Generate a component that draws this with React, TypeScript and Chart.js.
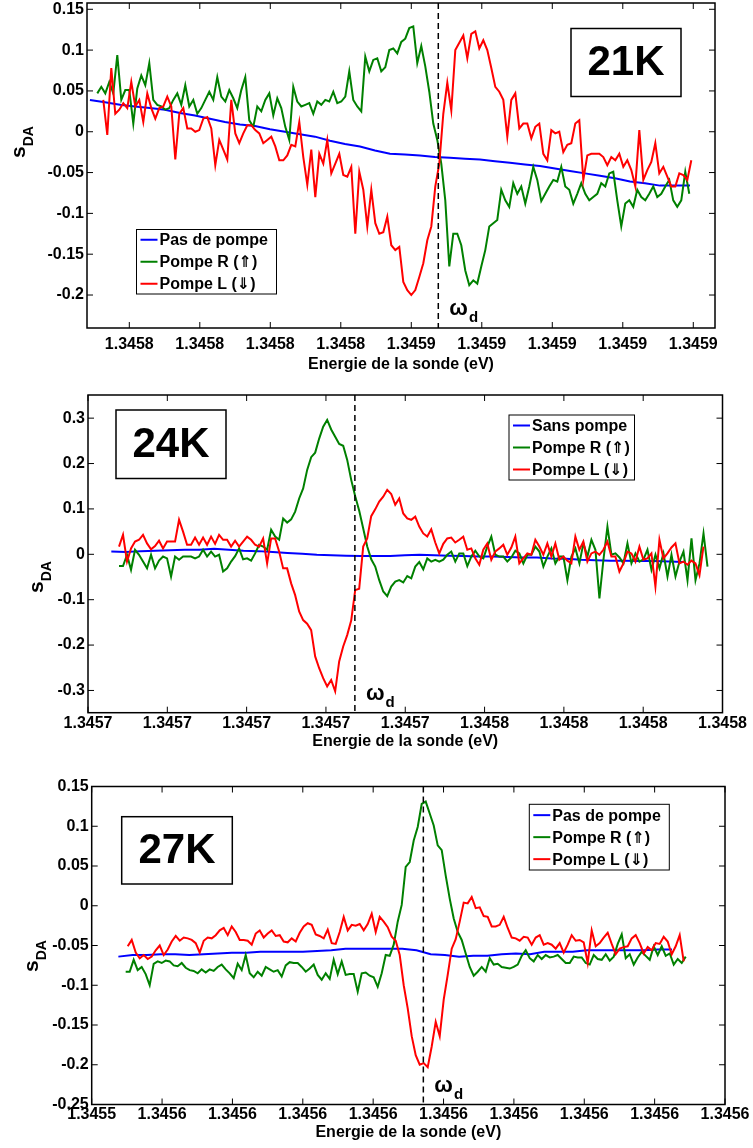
import React, { useEffect, useRef } from "react";
import { Chart, registerables } from "chart.js";

Chart.register(...registerables);

const FONT = "'Liberation Sans', Arial, Helvetica, 'DejaVu Sans', sans-serif";
const BLUE = "#0000ff";
const GREEN = "#008000";
const RED = "#ff0000";
const X_TITLE = "Energie de la sonde (eV)";

// ---------------- Panel 1 : 21K ----------------
const p1XLabels = ["1.3458", "1.3458", "1.3458", "1.3458", "1.3459", "1.3459", "1.3459", "1.3459", "1.3459"];
const p1XTicks = [0, 1, 2, 3, 4, 5, 6, 7, 8];
const p1YTicks = [-0.2, -0.15, -0.1, -0.05, 0, 0.05, 0.1, 0.15];
const p1Legend = ["Pas de pompe", "Pompe R (\u21D1)", "Pompe L (\u21D3)"];
const p1Marker = 4.383;
const p1BlueRange = [-0.558, 7.953];
const p1Blue = [0.039, 0.036, 0.033, 0.031, 0.029, 0.027, 0.023, 0.02, 0.016, 0.012, 0.009, 0.007, 0.003, 0.0, -0.003, -0.006, -0.011, -0.015, -0.018, -0.023, -0.027, -0.028, -0.029, -0.031, -0.032, -0.033, -0.034, -0.036, -0.038, -0.04, -0.042, -0.045, -0.048, -0.051, -0.054, -0.057, -0.061, -0.063, -0.066, -0.066, -0.066];
const p1GreenRange = [-0.454, 7.943];
const p1Green = [
  0.047, 0.055, 0.047, 0.061, 0.047, 0.094, 0.039, 0.051, 0.051, 0.01,
  0.053, 0.069, 0.057, 0.084, 0.039, 0.033, 0.031, 0.027, 0.029, 0.039,
  0.047, 0.033, 0.057, 0.031, 0.039, 0.022, 0.029, 0.039, 0.049, 0.039,
  0.067, 0.043, 0.037, 0.051, 0.041, 0.029, 0.051, 0.067, 0.014, 0.006,
  0.031, 0.025, 0.039, 0.047, 0.02, 0.041, 0.029, 0.006, -0.01, 0.055,
  0.037, 0.031, 0.033, 0.035, 0.022, 0.037, 0.033, 0.039, 0.037, 0.049,
  0.035, 0.037, 0.043, 0.074, 0.039, 0.031, 0.025, 0.092, 0.074, 0.088,
  0.09, 0.074, 0.079, 0.1, 0.102, 0.096, 0.11, 0.114, 0.127,
  0.129, 0.084, 0.105, 0.08, 0.049, 0.01, -0.01, -0.039, -0.084, -0.165,
  -0.125, -0.125, -0.139, -0.17, -0.188, -0.182, -0.186, -0.165, -0.145, -0.116,
  -0.112, -0.108, -0.071, -0.084, -0.092, -0.063, -0.076, -0.067, -0.088, -0.067,
  -0.043, -0.059, -0.085, -0.076, -0.067, -0.059, -0.061, -0.043, -0.067, -0.071,
  -0.088, -0.076, -0.063, -0.076, -0.084, -0.08, -0.076, -0.063, -0.067, -0.051,
  -0.049, -0.084, -0.116, -0.088, -0.084, -0.092, -0.071, -0.08, -0.084, -0.076,
  -0.067, -0.08, -0.076, -0.067, -0.059, -0.084, -0.092, -0.084, -0.049, -0.076,
];
const p1RedRange = [-0.369, 7.972];
const p1Red = [
  0.039, -0.004, 0.078, 0.022, 0.027, 0.035, 0.029, 0.061, 0.031, 0.039,
  0.012, 0.047, 0.029, 0.016, 0.029, 0.031, 0.043, 0.031, -0.034, 0.022,
  0.029, 0.004, 0.004, 0.0, 0.002, 0.016, 0.018, 0.004, -0.041, -0.01,
  -0.022, -0.034, 0.039, -0.002, -0.014, -0.002, 0.008, 0.008, 0.002, -0.002,
  -0.014, -0.01, -0.006, -0.018, -0.035, -0.035, -0.029, -0.016, -0.018, 0.012,
  -0.031, -0.065, -0.022, -0.08, -0.027, -0.039, -0.01, -0.051, -0.039, -0.027,
  -0.053, -0.055, -0.043, -0.125, -0.049, -0.071, -0.116, -0.071, -0.112, -0.125,
  -0.123, -0.104, -0.139, -0.145, -0.141, -0.184, -0.194,
  -0.2, -0.194, -0.178, -0.161, -0.133, -0.116, -0.067, -0.039, 0.022, 0.06,
  0.026, 0.1, 0.109, 0.118, 0.09, 0.12, 0.123, 0.102, 0.112, 0.1,
  0.078, 0.055, 0.049, 0.039, -0.006, 0.039, 0.047, 0.004, 0.01, 0.01,
  -0.008, 0.006, 0.01, -0.027, -0.035, 0.002, -0.002, 0.0, -0.025, -0.016,
  -0.014, 0.01, 0.014, -0.059, -0.029, -0.027, -0.027, -0.027, -0.031, -0.041,
  -0.031, -0.035, -0.027, -0.043, -0.035, -0.047, -0.067, 0.002, -0.059, -0.047,
  -0.037, -0.014, -0.051, -0.043, -0.055, -0.067, -0.067, -0.051, -0.053, -0.059, -0.035,
];

// ---------------- Panel 2 : 24K ----------------
const p2XLabels = ["1.3457", "1.3457", "1.3457", "1.3457", "1.3457", "1.3458", "1.3458", "1.3458", "1.3458"];
const p2XTicks = [0, 1, 2, 3, 4, 5, 6, 7, 8];
const p2YTicks = [-0.3, -0.2, -0.1, 0, 0.1, 0.2, 0.3];
const p2Legend = ["Sans pompe", "Pompe R (\u21D1)", "Pompe L (\u21D3)"];
const p2Marker = 3.365;
const p2BlueRange = [0.294, 7.512];
const p2Blue = [0.006, 0.005, 0.007, 0.008, 0.009, 0.01, 0.01, 0.012, 0.01, 0.008, 0.007, 0.005, 0.003, 0.001, -0.001, -0.002, -0.003, -0.004, -0.004, -0.004, -0.002, -0.001, -0.002, -0.003, -0.004, -0.005, -0.005, -0.006, -0.007, -0.007, -0.009, -0.01, -0.012, -0.013, -0.014, -0.014, -0.015, -0.015, -0.016, -0.017];
const p2GreenRange = [0.391, 7.811];
const p2Green = [
  -0.026, -0.026, -0.001, -0.034, 0.01, -0.001, -0.016, -0.031, -0.001, -0.031,
  -0.014, -0.005, -0.009, -0.049, -0.005, -0.012, -0.005, -0.005, -0.005, -0.009,
  -0.005, 0.01, -0.005, 0.006, -0.005, -0.001, -0.038, -0.031, -0.016, -0.004,
  0.013, -0.011, -0.009, -0.014, 0.002, 0.021, 0.017, 0.01, 0.054, 0.039,
  0.032, 0.079, 0.07, 0.077, 0.094, 0.123, 0.145, 0.186, 0.214, 0.224,
  0.255, 0.281, 0.296, 0.275, 0.259, 0.243, 0.239, 0.208, 0.164, 0.128,
  0.096, 0.057, 0.017, -0.011, -0.027, -0.057, -0.082, -0.092, -0.071, -0.06,
  -0.057, -0.062, -0.048, -0.053, -0.027, -0.017, -0.033, -0.009, -0.016, -0.012,
  -0.016, -0.012, -0.001, 0.006, -0.016, 0.002, 0.002, -0.026, -0.005, 0.008,
  -0.005, -0.009, 0.017, 0.039, -0.001, -0.005, -0.005, -0.016, -0.007, 0.008,
  0.002, -0.02, -0.001, -0.001, 0.017, 0.006, -0.027, -0.005, 0.013, -0.02,
  -0.005, -0.005, -0.057, -0.005, 0.013, -0.02, 0.024, -0.005, 0.032, 0.01,
  -0.097, -0.012, 0.061, -0.001, 0.002, -0.007, -0.02, 0.024, -0.02, 0.002,
  -0.016, -0.011, 0.01, -0.034, -0.001, -0.031, 0.002, -0.049, -0.001, -0.049,
  -0.016, 0.006, -0.057, 0.035, -0.057, -0.02, 0.046, -0.027,
];
const p2RedRange = [0.391, 7.76];
const p2Red = [
  0.017, 0.043, -0.016, 0.013, 0.028, 0.032, 0.043, 0.024, 0.011, 0.018,
  0.03, 0.013, 0.028, 0.028, 0.028, 0.076, 0.05, 0.021, 0.021, 0.037,
  0.021, 0.037, 0.021, 0.039, 0.023, 0.043, 0.032, 0.032, 0.017, 0.03,
  0.017, 0.028, 0.039, 0.032, 0.021, 0.017, 0.035, -0.02, 0.035, 0.035,
  0.006, -0.031, -0.031, -0.064, -0.09, -0.126, -0.145, -0.153, -0.167, -0.225,
  -0.251, -0.273, -0.291, -0.277, -0.302, -0.236, -0.203, -0.178, -0.146, -0.079,
  -0.076, 0.017, 0.035, 0.084, 0.099, 0.116, 0.127, 0.142, 0.133, 0.109,
  0.123, 0.09, 0.079, 0.076, 0.083, 0.061, 0.046, 0.039, 0.055, 0.026,
  0.002, 0.023, 0.035, 0.037, 0.026, 0.032, 0.039, 0.01, 0.013, -0.009,
  -0.023, 0.01, 0.024, -0.012, 0.006, 0.013, 0.021, -0.001, 0.015, 0.039,
  -0.02, -0.009, 0.002, -0.001, 0.032, 0.017, -0.001, 0.024, -0.005, 0.024,
  -0.012, -0.005, -0.014, -0.02, 0.039, 0.01, 0.028, -0.016, 0.002, 0.006,
  -0.001, 0.01, 0.028, -0.005, -0.005, -0.038, -0.02, 0.006, 0.002, -0.016,
  0.017, -0.012, -0.009, 0.002, -0.071, 0.032, -0.009, 0.002, 0.015, 0.024,
  -0.02, -0.016, -0.023, -0.014, -0.02, -0.046, 0.017,
];

// ---------------- Panel 3 : 27K ----------------
const p3XLabels = ["1.3455", "1.3456", "1.3456", "1.3456", "1.3456", "1.3456", "1.3456", "1.3456", "1.3456", "1.3456"];
const p3XTicks = [0, 1, 2, 3, 4, 5, 6, 7, 8, 9];
const p3YTicks = [-0.25, -0.2, -0.15, -0.1, -0.05, 0, 0.05, 0.1, 0.15];
const p3Legend = ["Pas de pompe", "Pompe R (\u21D1)", "Pompe L (\u21D3)"];
const p3Marker = 4.713;
const p3BlueRange = [0.379, 8.247];
const p3Blue = [-0.064, -0.062, -0.062, -0.061, -0.061, -0.062, -0.061, -0.06, -0.059, -0.059, -0.058, -0.058, -0.058, -0.058, -0.057, -0.056, -0.054, -0.054, -0.054, -0.054, -0.054, -0.056, -0.061, -0.062, -0.064, -0.063, -0.063, -0.061, -0.06, -0.061, -0.058, -0.058, -0.058, -0.056, -0.056, -0.056, -0.056, -0.056, -0.055, -0.055];
const p3GreenRange = [0.483, 8.442];
const p3Green = [
  -0.083, -0.083, -0.068, -0.081, -0.077, -0.086, -0.1, -0.073, -0.07, -0.072,
  -0.069, -0.07, -0.075, -0.076, -0.072, -0.078, -0.081, -0.082, -0.085, -0.08,
  -0.084, -0.08, -0.082, -0.077, -0.074, -0.08, -0.085, -0.091, -0.073, -0.081,
  -0.062, -0.085, -0.09, -0.083, -0.088, -0.077, -0.08, -0.083, -0.081, -0.089,
  -0.075, -0.071, -0.072, -0.072, -0.077, -0.083, -0.079, -0.074, -0.087, -0.093,
  -0.085, -0.092, -0.068, -0.086, -0.07, -0.087, -0.086, -0.086, -0.108, -0.085,
  -0.084, -0.088, -0.09, -0.102, -0.085, -0.062, -0.063, -0.049, -0.02, 0.001,
  0.049, 0.055, 0.082, 0.099, 0.128, 0.131, 0.116, 0.101, 0.076, 0.07,
  0.038, 0.009, -0.016, -0.033, -0.043, -0.06, -0.077, -0.088, -0.083, -0.077,
  -0.083, -0.066, -0.074, -0.073, -0.077, -0.078, -0.079, -0.077, -0.074, -0.063,
  -0.056, -0.066, -0.07, -0.062, -0.067, -0.062, -0.065, -0.064, -0.062, -0.067,
  -0.072, -0.072, -0.064, -0.065, -0.065, -0.072, -0.074, -0.062, -0.067, -0.068,
  -0.061, -0.069, -0.064, -0.048, -0.036, -0.066, -0.061, -0.074, -0.065, -0.058,
  -0.063, -0.068, -0.051, -0.062, -0.051, -0.063, -0.06, -0.074, -0.067, -0.072, -0.064,
];
const p3RedRange = [0.512, 8.413];
const p3Red = [
  -0.051, -0.043, -0.059, -0.066, -0.062, -0.067, -0.064, -0.056, -0.05, -0.062,
  -0.055, -0.045, -0.038, -0.044, -0.04, -0.041, -0.043, -0.047, -0.059, -0.044,
  -0.04, -0.041, -0.037, -0.031, -0.028, -0.037, -0.026, -0.033, -0.043, -0.043,
  -0.044, -0.049, -0.035, -0.031, -0.04, -0.035, -0.031, -0.038, -0.037, -0.045,
  -0.046, -0.041, -0.045, -0.034, -0.026, -0.022, -0.024, -0.036, -0.038, -0.041,
  -0.03, -0.047, -0.048, -0.033, -0.014, -0.031, -0.024, -0.025, -0.023, -0.031,
  -0.023, -0.01, -0.033, -0.014, -0.02, -0.027, -0.039, -0.044, -0.062, -0.1,
  -0.129, -0.164, -0.188, -0.2, -0.198, -0.203, -0.177, -0.146, -0.164, -0.118,
  -0.087, -0.054, -0.042, -0.02, 0.004, 0.003, 0.011, -0.003, -0.002, -0.013,
  -0.014, -0.026, -0.026, -0.024, -0.014, -0.028, -0.04, -0.041, -0.044, -0.039,
  -0.04, -0.049, -0.04, -0.037, -0.049, -0.047, -0.049, -0.054, -0.047, -0.059,
  -0.049, -0.037, -0.044, -0.043, -0.046, -0.072, -0.031, -0.051, -0.047, -0.04,
  -0.034, -0.048, -0.061, -0.054, -0.052, -0.051, -0.041, -0.037, -0.047, -0.06,
  -0.052, -0.056, -0.047, -0.048, -0.039, -0.045, -0.061, -0.051, -0.037, -0.07,
];

// ---------------- layout / styling ----------------
type Series = { name: string; color: string; range: number[]; values: number[]; order: number };
type PanelSpec = {
  canvasTop: number;
  canvasHeight: number;
  plot: { left: number; right: number; top: number; bottom: number };
  xMin: number; xMax: number; yMin: number; yMax: number;
  xTicks: number[]; xLabels: string[]; yTicks: number[];
  series: Series[];
  marker: number;
  tag: string;
  tagBox: number[];
  legendBox: number[];
  yLabel: number[];
  titleY: number;
  xTickPad: number;
};

const CW = 790;

const panels: PanelSpec[] = [
  {
    canvasTop: -17, canvasHeight: 397,
    plot: { left: 87, right: 715, top: 3, bottom: 328 },
    xMin: -0.6, xMax: 8.308, yMin: -0.2404, yMax: 0.1577,
    xTicks: p1XTicks, xLabels: p1XLabels, yTicks: p1YTicks,
    series: [
      { name: p1Legend[0], color: BLUE, range: p1BlueRange, values: p1Blue, order: 3 },
      { name: p1Legend[1], color: GREEN, range: p1GreenRange, values: p1Green, order: 2 },
      { name: p1Legend[2], color: RED, range: p1RedRange, values: p1Red, order: 1 },
    ],
    marker: p1Marker, tag: "21K",
    tagBox: [571, 28.5, 110, 68], legendBox: [136.5, 229.5, 140, 64.5],
    yLabel: [25, 158], titleY: 365, xTickPad: 7,
  },
  {
    canvasTop: 375, canvasHeight: 390,
    plot: { left: 88, right: 722.5, top: 395, bottom: 712.7 },
    xMin: 0, xMax: 8, yMin: -0.349, yMax: 0.351,
    xTicks: p2XTicks, xLabels: p2XLabels, yTicks: p2YTicks,
    series: [
      { name: p2Legend[0], color: BLUE, range: p2BlueRange, values: p2Blue, order: 3 },
      { name: p2Legend[1], color: GREEN, range: p2GreenRange, values: p2Green, order: 2 },
      { name: p2Legend[2], color: RED, range: p2RedRange, values: p2Red, order: 1 },
    ],
    marker: p2Marker, tag: "24K",
    tagBox: [116, 410, 110, 68.5], legendBox: [509, 415, 125.5, 65],
    yLabel: [43, 593], titleY: 741.5, xTickPad: 1,
  },
  {
    canvasTop: 766, canvasHeight: 382,
    plot: { left: 91.7, right: 725, top: 786.5, bottom: 1104.5 },
    xMin: 0, xMax: 9, yMin: -0.25, yMax: 0.15,
    xTicks: p3XTicks, xLabels: p3XLabels, yTicks: p3YTicks,
    series: [
      { name: p3Legend[0], color: BLUE, range: p3BlueRange, values: p3Blue, order: 3 },
      { name: p3Legend[1], color: GREEN, range: p3GreenRange, values: p3Green, order: 2 },
      { name: p3Legend[2], color: RED, range: p3RedRange, values: p3Red, order: 1 },
    ],
    marker: p3Marker, tag: "27K",
    tagBox: [121.7, 816.7, 110.6, 67.3], legendBox: [529.3, 804.3, 140, 65.7],
    yLabel: [38, 972], titleY: 1132.5, xTickPad: 0,
  },
];

function toPoints(s: Series) {
  const n = s.values.length;
  const [a, b] = s.range;
  return s.values.map((v, i) => ({ x: a + (i * (b - a)) / (n - 1), y: v }));
}

function decor(s: PanelSpec) {
  return {
    id: "decor",
    afterDatasetsDraw(chart: any) {
      const { ctx, chartArea: a, scales } = chart;
      const xs = scales.x;
      const ys = scales.y;
      const off = s.canvasTop;
      ctx.save();
      ctx.strokeStyle = "#000";
      ctx.fillStyle = "#000";
      // dashed marker line (omega_d)
      const mx = xs.getPixelForValue(s.marker);
      ctx.lineWidth = 1.5;
      ctx.setLineDash([6, 4]);
      ctx.beginPath();
      ctx.moveTo(mx, a.top);
      ctx.lineTo(mx, a.bottom);
      ctx.stroke();
      ctx.setLineDash([]);
      // box frame
      ctx.lineWidth = 1.5;
      ctx.strokeRect(a.left, a.top, a.right - a.left, a.bottom - a.top);
      // inward ticks on all four sides
      ctx.lineWidth = 1;
      ctx.beginPath();
      for (const v of s.xTicks) {
        const p = xs.getPixelForValue(v);
        ctx.moveTo(p, a.bottom);
        ctx.lineTo(p, a.bottom - 6);
        ctx.moveTo(p, a.top);
        ctx.lineTo(p, a.top + 6);
      }
      for (const v of s.yTicks) {
        const p = ys.getPixelForValue(v);
        ctx.moveTo(a.left, p);
        ctx.lineTo(a.left + 6, p);
        ctx.moveTo(a.right, p);
        ctx.lineTo(a.right - 6, p);
      }
      ctx.stroke();
      // omega_d label
      ctx.textAlign = "left";
      ctx.textBaseline = "alphabetic";
      ctx.font = `bold 22px ${FONT}`;
      ctx.fillText("\u03C9", mx + 11, a.bottom - 13);
      const ow = ctx.measureText("\u03C9").width;
      ctx.font = `bold 15px ${FONT}`;
      ctx.fillText("d", mx + 11 + ow + 1, a.bottom - 6);
      // temperature tag
      const [tx, ty, tw, th] = s.tagBox;
      ctx.fillStyle = "#fff";
      ctx.fillRect(tx, ty - off, tw, th);
      ctx.lineWidth = 1.5;
      ctx.strokeRect(tx, ty - off, tw, th);
      ctx.fillStyle = "#000";
      ctx.font = `bold 42px ${FONT}`;
      ctx.textAlign = "center";
      ctx.textBaseline = "middle";
      ctx.fillText(s.tag, tx + tw / 2, ty - off + th / 2 + 1);
      // legend
      const [lx, ly, lw, lh] = s.legendBox;
      ctx.fillStyle = "#fff";
      ctx.fillRect(lx, ly - off, lw, lh);
      ctx.lineWidth = 1;
      ctx.strokeStyle = "#000";
      ctx.strokeRect(lx, ly - off, lw, lh);
      ctx.font = `bold 16px ${FONT}`;
      ctx.textAlign = "left";
      ctx.textBaseline = "middle";
      s.series.forEach((se, i) => {
        const ry = ly - off + lh / 2 + (i - 1) * 22;
        ctx.strokeStyle = se.color;
        ctx.lineWidth = 2;
        ctx.beginPath();
        ctx.moveTo(lx + 4, ry);
        ctx.lineTo(lx + 21, ry);
        ctx.stroke();
        ctx.fillStyle = "#000";
        ctx.fillText(se.name, lx + 23, ry + 1);
      });
      // y axis label s_DA
      const [yx, yy] = s.yLabel;
      ctx.save();
      ctx.translate(yx, yy - off);
      ctx.rotate(-Math.PI / 2);
      ctx.textAlign = "left";
      ctx.textBaseline = "alphabetic";
      ctx.fillStyle = "#000";
      ctx.font = `bold 21px ${FONT}`;
      ctx.fillText("s", 0, 0);
      const sw = ctx.measureText("s").width;
      ctx.font = `bold 14px ${FONT}`;
      ctx.fillText("DA", sw, 8);
      ctx.restore();
      ctx.restore();
    },
  };
}

function buildConfig(s: PanelSpec): any {
  const padTop = s.plot.top - s.canvasTop;
  const bottomInCanvas = s.plot.bottom - s.canvasTop;
  const xAxisH = s.canvasHeight - bottomInCanvas;
  const titleCenter = s.titleY - s.canvasTop;
  const titleFont = 16;
  const titlePad = s.canvasHeight - titleCenter - (titleFont * 1.2) / 2;
  const tickFont = { family: FONT, size: 16, weight: "bold" as const };
  return {
    type: "line",
    data: {
      datasets: s.series.map((se) => ({
        label: se.name,
        data: toPoints(se),
        borderColor: se.color,
        backgroundColor: se.color,
        borderWidth: 2,
        pointRadius: 0,
        tension: 0,
        fill: false,
        order: se.order,
      })),
    },
    options: {
      responsive: false,
      animation: false,
      events: [],
      layout: { padding: { left: 0, top: padTop, right: CW - s.plot.right, bottom: 0 } },
      plugins: { legend: { display: false }, tooltip: { enabled: false }, title: { display: false } },
      scales: {
        x: {
          type: "linear",
          min: s.xMin,
          max: s.xMax,
          grid: { display: false, drawTicks: false },
          border: { display: false },
          afterBuildTicks: (ax: any) => {
            ax.ticks = s.xTicks.map((v) => ({ value: v }));
          },
          afterFit: (ax: any) => {
            ax.height = xAxisH;
          },
          ticks: {
            autoSkip: false,
            maxRotation: 0,
            minRotation: 0,
            padding: s.xTickPad,
            color: "#000",
            font: tickFont,
            callback: (_v: any, i: number) => s.xLabels[i],
          },
          title: {
            display: true,
            text: X_TITLE,
            color: "#000",
            font: { family: FONT, size: titleFont, weight: "bold" },
            padding: { top: 0, bottom: titlePad },
          },
        },
        y: {
          type: "linear",
          min: s.yMin,
          max: s.yMax,
          grid: { display: false, drawTicks: false },
          border: { display: false },
          afterBuildTicks: (ax: any) => {
            ax.ticks = s.yTicks.map((v) => ({ value: v }));
          },
          afterFit: (ax: any) => {
            ax.width = s.plot.left;
          },
          ticks: {
            autoSkip: false,
            padding: 3,
            color: "#000",
            font: tickFont,
            callback: (v: any) => String(v),
          },
        },
      },
    },
    plugins: [decor(s)],
  };
}

function Panel({ spec }: { spec: PanelSpec }) {
  const ref = useRef<HTMLCanvasElement>(null);
  useEffect(() => {
    if (!ref.current) return;
    const chart = new Chart(ref.current, buildConfig(spec));
    return () => chart.destroy();
  }, [spec]);
  return (
    <canvas
      ref={ref}
      width={CW}
      height={spec.canvasHeight}
      style={{ position: "absolute", left: 0, top: spec.canvasTop, width: CW, height: spec.canvasHeight }}
    />
  );
}

export default function App() {
  return (
    <div
      style={{
        position: "absolute",
        left: 0,
        top: 0,
        width: 753,
        height: 1148,
        overflow: "hidden",
        background: "#fff",
      }}
    >
      {panels.map((p, i) => (
        <Panel key={i} spec={p} />
      ))}
    </div>
  );
}
